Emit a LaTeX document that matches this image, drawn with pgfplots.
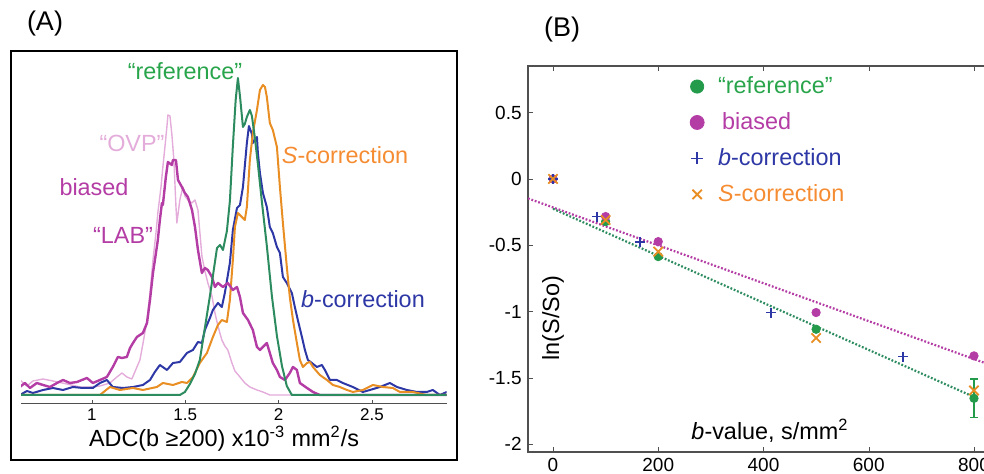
\documentclass[border=0pt]{standalone}
\usepackage{fontspec}
\setmainfont{Liberation Sans}
\usepackage{pgfplots}
\pgfplotsset{compat=1.18}
\definecolor{refgreen}{RGB}{35,155,75}
\definecolor{linegreen}{RGB}{45,140,95}
\definecolor{txtgreen}{RGB}{40,165,75}
\definecolor{biasmag}{RGB}{180,60,165}
\definecolor{ovppink}{RGB}{228,172,218}
\definecolor{bblue}{RGB}{45,55,165}
\definecolor{sorange}{RGB}{232,142,35}
\definecolor{txtorange}{RGB}{245,140,50}
\definecolor{axgray}{RGB}{80,80,80}
\newcommand\lbl{\fontsize{11.7}{14}\selectfont}

\begin{document}
\begin{tikzpicture}[every node/.append style={inner sep=0pt}]
% ---------- panel A: ADC histograms ----------
\begin{axis}[at={(10.5pt,35pt)}, anchor=south west, scale only axis,
  width=212.8pt, height=174pt,
  xmin=0.62, xmax=2.90, ymin=-8, ymax=340,
  axis x line*=bottom, axis y line=none,
  axis line style={axgray, line width=0.5pt, -},
  xtick={1,1.5,2,2.5}, tick align=inside, major tick length=2pt,
  tick style={axgray},
  /pgf/number format/assume math mode=true,
  ticklabel style={font=\fontsize{8.5}{10}\selectfont},
  xticklabel style={yshift=-2pt},
  every axis plot/.append style={line join=round}]
% "OVP"
\addplot[ovppink, line width=0.7pt] coordinates {
(0.614,16)(0.652,10)(0.684,15)(0.738,17)(0.791,15)(0.866,12)(0.936,9)(0.989,9)
(1.043,10)(1.096,13)(1.134,19)(1.161,23)(1.187,19)(1.214,17)(1.241,29)(1.257,36)
(1.273,52)(1.295,76)(1.311,103)(1.327,136)(1.343,163)(1.353,183)(1.370,209)
(1.380,229)(1.391,249)(1.402,270)(1.407,281)(1.418,280)(1.428,262)(1.439,236)
(1.450,190)(1.455,173)(1.471,196)(1.487,209)(1.498,200)(1.514,196)(1.536,193)
(1.552,196)(1.568,186)(1.589,140)(1.605,125)(1.621,113)(1.643,100)(1.659,83)
(1.675,70)(1.696,56)(1.712,50)(1.728,46)(1.750,33)(1.766,25)(1.793,19)(1.819,13)
(1.846,9)(1.884,6)(1.916,4)(1.953,1)(2.901,1)};
% b-correction
\addplot[bblue, line width=1pt] coordinates {
(0.614,1)(0.652,5)(0.684,3)(0.738,6)(0.791,8)(0.845,6)(0.898,9)(0.952,8)(1.005,8)
(1.043,13)(1.080,16)(1.112,9)(1.166,8)(1.220,9)(1.273,11)(1.311,16)(1.337,24)
(1.364,31)(1.402,26)(1.434,33)(1.471,34)(1.509,43)(1.541,46)(1.568,54)(1.589,53)
(1.605,66)(1.632,78)(1.648,86)(1.675,93)(1.696,89)(1.712,103)(1.739,133)(1.755,166)
(1.777,188)(1.793,191)(1.809,209)(1.830,253)(1.841,270)(1.857,262)(1.862,253)
(1.873,256)(1.884,259)(1.889,243)(1.900,223)(1.916,203)(1.937,189)(1.953,169)
(1.969,163)(1.991,149)(2.007,143)(2.023,119)(2.044,113)(2.071,103)(2.087,89)
(2.103,76)(2.125,59)(2.141,46)(2.157,36)(2.178,33)(2.205,29)(2.232,31)(2.248,26)
(2.275,16)(2.312,16)(2.344,13)(2.398,9)(2.451,4)(2.489,6)(2.543,9)(2.596,13)
(2.634,9)(2.687,6)(2.741,4)(2.794,4)(2.826,6)(2.864,1)(2.901,4)};
% S-correction
\addplot[sorange, line width=1pt] coordinates {
(0.614,1)(1.043,1)(1.096,9)(1.150,6)(1.220,8)(1.273,6)(1.348,9)(1.380,13)(1.434,11)
(1.482,14)(1.509,13)(1.541,19)(1.578,33)(1.616,43)(1.648,59)(1.675,71)(1.696,76)
(1.723,74)(1.739,96)(1.755,136)(1.766,169)(1.782,183)(1.803,179)(1.819,176)
(1.830,189)(1.846,236)(1.862,263)(1.884,286)(1.900,306)(1.916,311)(1.927,309)
(1.937,299)(1.953,273)(1.969,266)(1.991,249)(2.007,209)(2.023,173)(2.044,129)
(2.060,99)(2.077,76)(2.098,53)(2.114,36)(2.130,29)(2.152,33)(2.168,34)(2.184,29)
(2.221,21)(2.259,16)(2.291,11)(2.328,9)(2.366,6)(2.398,4)(2.451,6)(2.505,11)
(2.559,9)(2.612,8)(2.650,4)(2.719,4)(2.794,1)(2.901,1)};
% biased "LAB"
\addplot[biasmag, line width=1.2pt] coordinates {
(0.614,9)(0.641,13)(0.668,8)(0.705,13)(0.738,11)(0.775,9)(0.813,13)(0.845,16)
(0.882,13)(0.920,14)(0.973,18)(1.005,13)(1.043,16)(1.080,19)(1.112,29)(1.139,39)
(1.161,38)(1.187,39)(1.204,48)(1.220,53)(1.241,59)(1.273,63)(1.295,73)(1.311,96)
(1.327,123)(1.343,143)(1.353,156)(1.364,176)(1.375,193)(1.380,191)(1.396,219)
(1.407,234)(1.428,231)(1.434,236)(1.450,236)(1.461,216)(1.482,209)(1.498,203)
(1.514,199)(1.536,186)(1.552,169)(1.568,146)(1.589,123)(1.605,128)(1.621,126)
(1.643,119)(1.659,109)(1.675,113)(1.702,109)(1.728,113)(1.755,106)(1.777,109)
(1.793,99)(1.809,83)(1.836,76)(1.862,66)(1.884,49)(1.900,46)(1.916,49)(1.937,53)
(1.953,43)(1.969,33)(1.991,26)(2.007,19)(2.034,16)(2.060,23)(2.077,29)(2.098,26)
(2.114,13)(2.152,8)(2.184,4)(2.221,1)(2.901,1)};
% "reference"
\addplot[linegreen, line width=1pt] coordinates {
(0.614,1)(1.471,1)(1.498,4)(1.525,12)(1.552,22)(1.578,36)(1.605,68)(1.632,100)
(1.648,120)(1.670,148)(1.686,151)(1.702,146)(1.723,165)(1.739,195)(1.755,250)
(1.770,296)(1.782,318)(1.793,300)(1.809,269)(1.819,272)(1.830,279)(1.846,286)
(1.857,280)(1.873,258)(1.889,232)(1.910,195)(1.937,150)(1.964,100)(1.991,60)
(2.018,30)(2.044,10)(2.071,1)(2.901,1)};
\end{axis}
\draw[line width=1.2pt] (5.5pt,7pt) rectangle (228.5pt,211.5pt);
\node[font=\fontsize{13.5}{16}\selectfont] at (22.5pt,225pt) {(A)};
\node[font=\lbl, txtgreen] at (92.5pt,201.5pt) {“reference”};
\node[font=\lbl, ovppink] at (66pt,165.5pt) {“OVP”};
\node[font=\lbl, biasmag] at (47pt,143.5pt) {biased};
\node[font=\lbl, biasmag] at (61.5pt,119.5pt) {“LAB”};
\node[font=\lbl, txtorange] at (172.5pt,159.5pt) {\textit{S}-correction};
\node[font=\lbl, bblue] at (181.5pt,87.5pt) {\textit{b}-correction};
\node[font=\lbl] at (112pt,17.5pt) {ADC(b ≥200) x10\textsuperscript{-3} mm\textsuperscript{2}/s};

% ---------- panel B: ln(S/So) vs b ----------
\begin{axis}[at={(264pt,11pt)}, anchor=south west, scale only axis,
  width=241.4pt, height=193pt,
  xmin=-47.5, xmax=870, ymin=-2.06, ymax=0.852,
  axis line style={axgray, line width=0.6pt}, tick style={axgray},
  tick align=inside, major tick length=2.5pt,
  xtick={0,200,400,600,800}, ytick={-2,-1.5,-1,-0.5,0,0.5},
  /pgf/number format/assume math mode=true,
  ticklabel style={font=\fontsize{9.5}{11}\selectfont},
  xticklabel style={yshift=-3pt}, yticklabel style={xshift=-3pt},
  legend style={at={(0.335,0.984)}, anchor=north west, draw=none, fill=none,
    inner sep=0pt, row sep=4pt, font=\lbl},
  legend cell align=left]
\addplot[forget plot, biasmag, dash pattern=on 0.9pt off 0.9pt, line width=1.1pt]
  coordinates {(-47.5,-0.147) (870,-1.459)};
\addplot[forget plot, linegreen, dash pattern=on 0.9pt off 0.9pt, line width=1.1pt]
  coordinates {(0,-0.225) (800,-1.645)};
\addplot[forget plot, draw=none, error bars/.cd, y dir=both, y explicit,
  error bar style={draw=refgreen, line width=0.6pt},
  error mark options={draw=refgreen, mark size=2pt, line width=0.6pt, rotate=90}]
  coordinates {(800,-1.655) +- (0,0.145)};
\addplot[only marks, mark=*, mark size=2.1pt, refgreen,
  legend image post style={mark size=3.3pt}]
  coordinates {(0,0)(100,-0.322)(200,-0.586)(500,-1.134)(800,-1.655)};
\addlegendentry{\hspace{5pt}\textcolor{txtgreen}{“reference”}}
\addplot[only marks, mark=*, mark size=2.1pt, biasmag,
  legend image post style={mark size=3.5pt}]
  coordinates {(0,0)(100,-0.284)(200,-0.473)(500,-1.008)(800,-1.335)};
\addlegendentry{\hspace{7pt}\textcolor{biasmag}{biased}}
\addplot[only marks, mark=+, mark size=2.5pt, bblue, line width=0.9pt,
  legend image post style={mark size=3pt}]
  coordinates {(0,0)(84,-0.284)(165,-0.473)(415,-1.008)(665,-1.34)};
\addlegendentry{\hspace{5pt}\textcolor{bblue}{\textit{b}-correction}}
\addplot[only marks, mark=x, mark size=3.3pt, sorange, line width=0.9pt]
  coordinates {(0,0)(100,-0.31)(200,-0.548)(500,-1.2)(800,-1.596)};
\addlegendentry{\hspace{5pt}\textcolor{txtorange}{\textit{S}-correction}}
\end{axis}
\node[font=\fontsize{13.5}{16}\selectfont] at (281pt,222pt) {(B)};
\node[font=\lbl] at (385pt,21.5pt) {\textit{b}-value, s/mm\textsuperscript{2}};
\node[font=\lbl, rotate=90] at (276.5pt,78pt) {ln(S/So)};
\pgfresetboundingbox
\path[use as bounding box] (0pt,0pt) rectangle (492pt,237pt);
\end{tikzpicture}
\end{document}
